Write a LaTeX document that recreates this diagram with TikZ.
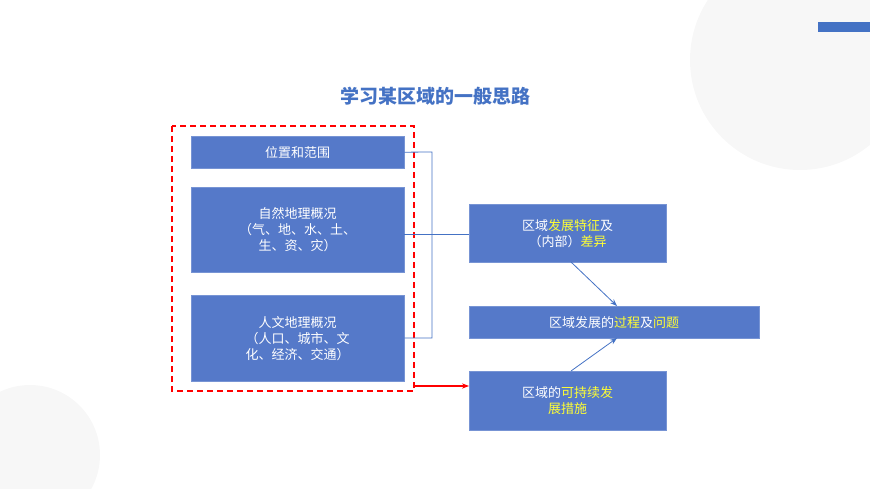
\documentclass[tikz,border=0pt]{standalone}
\usepackage{fontspec}
\setmainfont{Noto Sans CJK SC}
\usetikzlibrary{arrows.meta,positioning}
\definecolor{boxblue}{HTML}{5579C9}
\definecolor{titleblue}{HTML}{4472C4}
\definecolor{hl}{HTML}{FFFF33}
\newcommand{\hl}[1]{\textcolor{hl}{#1}}
\begin{document}
\begin{tikzpicture}[x=1pt,y=-1pt,
    box/.style={fill=boxblue,draw=boxblue!80!white,text=white,align=center,
      inner sep=0pt,font=\fontsize{13}{16}\selectfont,anchor=north west},
    link/.style={draw=titleblue,line width=0.8pt}]
    \useasboundingbox (0,0) rectangle (870,489);
    \fill[gray!6] (800,60) circle (110);
    \fill[gray!6] (30,455) circle (70);
    \fill[titleblue] (818,22) rectangle (870,32);
    \node[text=titleblue,font=\fontsize{19}{22}\bfseries\selectfont] (title) at (435,96) {学习某区域的一般思路};
    \node[box,minimum width=213,minimum height=32] (pos) at (191,136) {位置和范围};
    \node[box,minimum width=213,minimum height=85] (nat) at (191,187) {自然地理概况\\（气、地、水、土、\\生、资、灾）};
    \node[box,minimum width=213,minimum height=86] (hum) at (191,295) {人文地理概况\\（人口、城市、文\\化、经济、交通）};
    \node[box,minimum width=197,minimum height=58] (feat) at (469,204) {区域\hl{发展特征}及\\（内部）\hl{差异}};
    \node[box,minimum width=290,minimum height=32] (proc) at (469,306) {区域发展的\hl{过程}及\hl{问题}};
    \node[box,minimum width=197,minimum height=59] (meas) at (469,371) {区域的\hl{可持续发}\\\hl{展措施}};
    \draw[red,dashed,line width=1.3pt,dash pattern=on 6pt off 4pt] (172,126) rectangle (414,391);
    \coordinate (corner) at (414,386);
    \draw[link] (pos.east) -- (432,152) -- (432,338) -- (hum.east |- 0,338);
    \draw[link] (nat.east |- 0,234) -- (feat.west |- 0,234);
    \draw[link,-{Stealth[length=7pt]}] (571,262) -- (617,306);
    \draw[link,-{Stealth[length=7pt]}] (571,371) -- (617,338);
    \draw[red,line width=1.2pt,-{Stealth[length=7pt]}] (corner) -- (meas.west |- corner);
\end{tikzpicture}
\end{document}
